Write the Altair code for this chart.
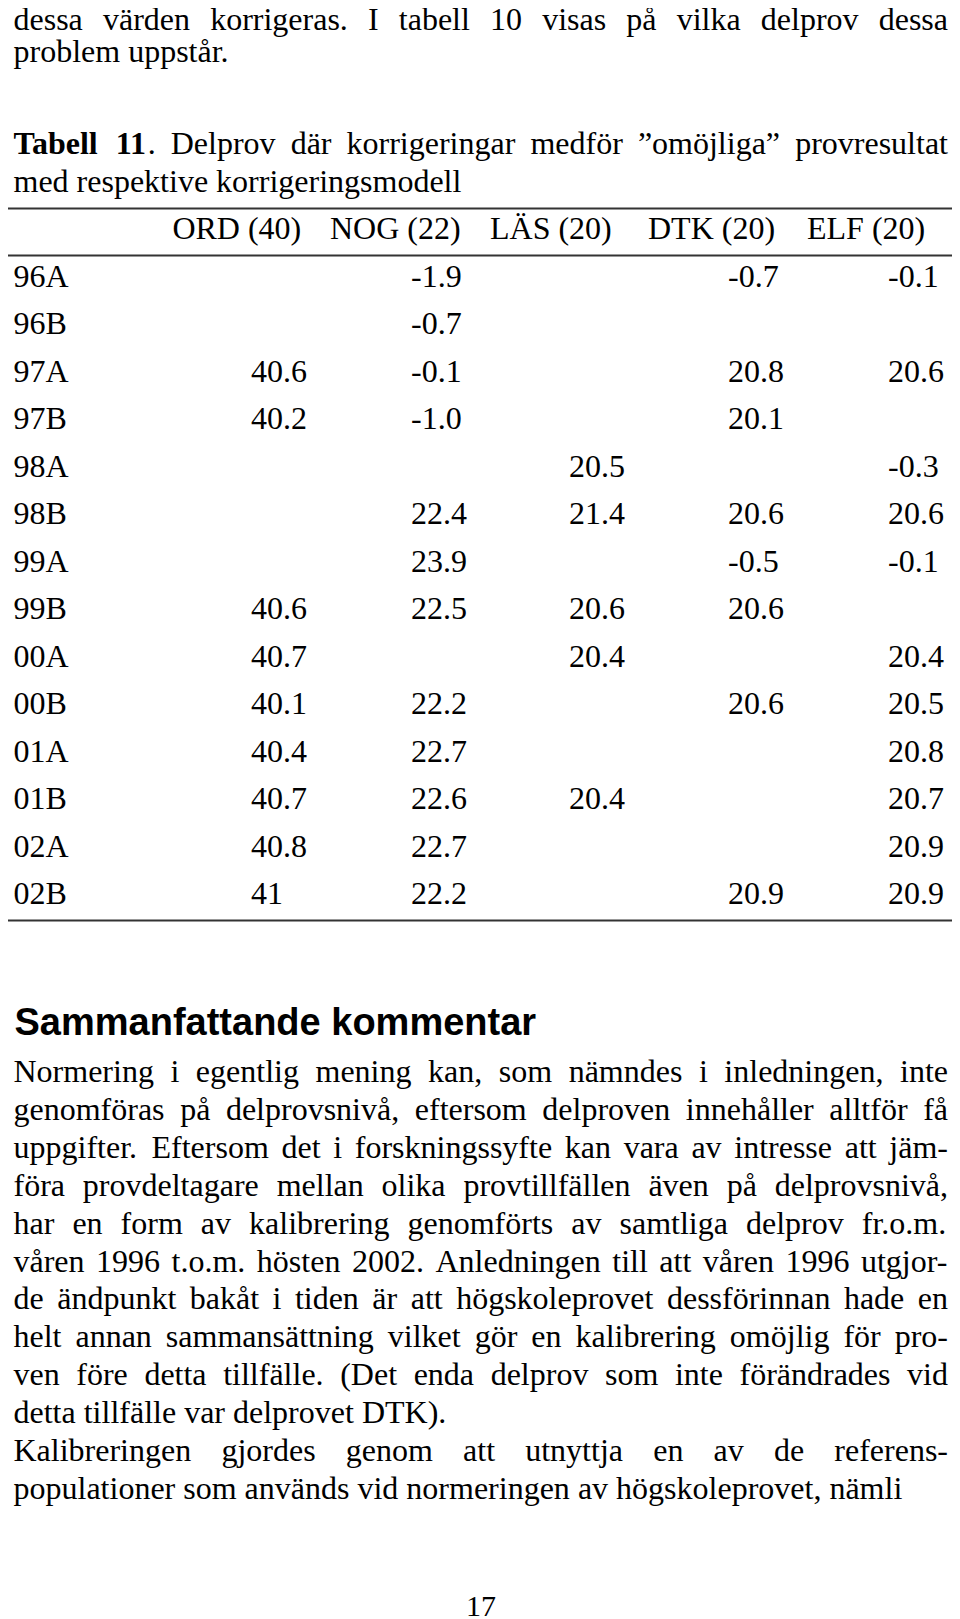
import altair as alt
import pandas as pd

# ---------------- content ----------------
intro_lines = [
    "dessa värden korrigeras. I tabell 10 visas på vilka delprov dessa",
    "problem uppstår.",
]
intro_justify = [True, False]

caption_lines = [
    "Tabell 11. Delprov där korrigeringar medför ”omöjliga” provresultat",
    "med respektive korrigeringsmodell",
]
caption_justify = [True, False]
caption_bold_chars = 9  # "Tabell 11" is set in bold

columns = ["ORD (40)", "NOG (22)", "LÄS (20)", "DTK (20)", "ELF (20)"]
rows = ["96A", "96B", "97A", "97B", "98A", "98B", "99A", "99B",
        "00A", "00B", "01A", "01B", "02A", "02B"]
ORD = ["", "", "40.6", "40.2", "", "", "", "40.6", "40.7", "40.1", "40.4", "40.7", "40.8", "41"]
NOG = ["-1.9", "-0.7", "-0.1", "-1.0", "", "22.4", "23.9", "22.5", "", "22.2", "22.7", "22.6", "22.7", "22.2"]
LAS = ["", "", "", "", "20.5", "21.4", "", "20.6", "20.4", "", "", "20.4", "", ""]
DTK = ["-0.7", "", "20.8", "20.1", "", "20.6", "-0.5", "20.6", "", "20.6", "", "", "", "20.9"]
ELF = ["-0.1", "", "20.6", "", "-0.3", "20.6", "-0.1", "", "20.4", "20.5", "20.8", "20.7", "20.9", "20.9"]

heading = "Sammanfattande kommentar"

para_lines = [
    "Normering i egentlig mening kan, som nämndes i inledningen, inte",
    "genomföras på delprovsnivå, eftersom delproven innehåller alltför få",
    "uppgifter. Eftersom det i forskningssyfte kan vara av intresse att jäm-",
    "föra provdeltagare mellan olika provtillfällen även på delprovsnivå,",
    "har en form av kalibrering genomförts av samtliga delprov fr.o.m.",
    "våren 1996 t.o.m. hösten 2002. Anledningen till att våren 1996 utgjor-",
    "de ändpunkt bakåt i tiden är att högskoleprovet dessförinnan hade en",
    "helt annan sammansättning vilket gör en kalibrering omöjlig för pro-",
    "ven före detta tillfälle. (Det enda delprov som inte förändrades vid",
    "detta tillfälle var delprovet DTK).",
    "Kalibreringen gjordes genom att utnyttja en av de referens-",
    "populationer som används vid normeringen av högskoleprovet, nämli",
]
para_justify = [True, True, True, True, True, True, True, True, True, False, True, False]

page_number = "17"

# ---------------- layout ----------------
FS = 32
LEFT, RIGHT = 13.5, 948
INTRO_YS = [30, 62]
CAPTION_YS = [153.5, 191.5]
RULE_YS = [208.5, 255.5, 920.5]
HEADER_Y = 239
HEADER_X = [172.4, 330, 490, 648, 807]
VALUE_X = [251, 411, 569, 728, 888]
ROW_Y0, ROW_STEP = 286.5, 47.5
HEADING_Y, HEADING_FS = 1035, 38
PARA_Y0, PARA_STEP = 1082, 37.9
PAGE_X, PAGE_Y, PAGE_FS = 481, 1616, 30

# Times / Liberation Serif advance widths (per 1000 em)
TIMES = {" ": 250, ".": 250, ",": 250, "-": 333, "(": 333, ")": 333, "”": 444, "“": 444,
         "ä": 444, "å": 444, "ö": 500, "Ä": 722, "Å": 722, "Ö": 722}
for c in "0123456789":
    TIMES[c] = 500
TIMES.update(dict(zip("abcdefghijklmnopqrstuvwxyz",
                      [444, 500, 444, 500, 444, 333, 500, 500, 278, 278, 500, 278, 778, 500,
                       500, 500, 500, 333, 389, 278, 500, 500, 722, 500, 500, 444])))
TIMES.update(dict(zip("ABCDEFGHIJKLMNOPQRSTUVWXYZ",
                      [722, 667, 667, 722, 611, 556, 722, 722, 333, 389, 722, 611, 889, 722,
                       722, 556, 722, 667, 556, 611, 722, 722, 944, 722, 722, 611])))
TIMES_BOLD = {"T": 667, "a": 500, "b": 556, "e": 444, "l": 278, "1": 500, " ": 250, ".": 250}


def tw(s, bold=False, fs=FS):
    table = TIMES_BOLD if bold else TIMES
    return sum(table.get(c, 500) for c in s) / 1000.0 * fs


def layout_line(line, y, justify, bold_upto=0):
    words, pos = [], 0
    for w in line.split(" "):
        runs, cur, cur_b = [], "", None
        for k, ch in enumerate(w):
            b = (pos + k) < bold_upto
            if cur_b is None or b == cur_b:
                cur += ch
                cur_b = b
            else:
                runs.append((cur, cur_b))
                cur, cur_b = ch, b
        runs.append((cur, cur_b))
        words.append(runs)
        pos += len(w) + 1
    widths = [sum(tw(t, b) for t, b in r) for r in words]
    if justify and len(words) > 1:
        gap = (RIGHT - LEFT - sum(widths)) / (len(words) - 1)
    else:
        gap = tw(" ")
    out, x = [], LEFT
    for runs, w in zip(words, widths):
        xx = x
        for t, b in runs:
            out.append(dict(x=xx, y=y, text=t, bold=b, size=FS))
            xx += tw(t, b)
        x += w + gap
    return out


recs = []
for ln, j, yy in zip(intro_lines, intro_justify, INTRO_YS):
    recs += layout_line(ln, yy, j)
for i, (ln, j, yy) in enumerate(zip(caption_lines, caption_justify, CAPTION_YS)):
    recs += layout_line(ln, yy, j, caption_bold_chars if i == 0 else 0)
for i, (ln, j) in enumerate(zip(para_lines, para_justify)):
    recs += layout_line(ln, PARA_Y0 + i * PARA_STEP, j)

# table
for c, hx in zip(columns, HEADER_X):
    recs.append(dict(x=hx, y=HEADER_Y, text=c, bold=False, size=FS))
series = [ORD, NOG, LAS, DTK, ELF]
for r, lab in enumerate(rows):
    yy = ROW_Y0 + r * ROW_STEP
    recs.append(dict(x=LEFT, y=yy, text=lab, bold=False, size=FS))
    for col, vx in zip(series, VALUE_X):
        if col[r]:
            recs.append(dict(x=vx, y=yy, text=col[r], bold=False, size=FS))

recs.append(dict(x=PAGE_X - tw(page_number, fs=PAGE_FS) / 2, y=PAGE_Y, text=page_number,
                 bold=False, size=PAGE_FS))

df = pd.DataFrame(recs)
df_reg = df[~df["bold"]]
df_bold = df[df["bold"]]
df_head = pd.DataFrame([dict(x=14.5, y=HEADING_Y, text=heading, size=HEADING_FS)])
df_rules = pd.DataFrame([dict(x=3, x2=957, y=yv) for yv in RULE_YS])

W, H = 944, 1611
X = alt.X("x:Q", scale=alt.Scale(domain=[8, 8 + W], nice=False, zero=False), axis=None)
Y = alt.Y("y:Q", scale=alt.Scale(domain=[8, 8 + H], nice=False, zero=False, reverse=True), axis=None)
SZ = alt.Size("size:Q", scale=None, legend=None)

reg = alt.Chart(df_reg).mark_text(
    align="left", baseline="alphabetic", font="Liberation Serif", color="#000"
).encode(x=X, y=Y, text="text:N", size=SZ)

bold = alt.Chart(df_bold).mark_text(
    align="left", baseline="alphabetic", font="Liberation Serif", fontWeight="bold", color="#000"
).encode(x=X, y=Y, text="text:N", size=SZ)

head = alt.Chart(df_head).mark_text(
    align="left", baseline="alphabetic", font="Liberation Sans", fontWeight="bold", color="#000"
).encode(x=X, y=Y, text="text:N", size=SZ)

rules = alt.Chart(df_rules).mark_rule(color="#333", strokeWidth=2).encode(x=X, x2="x2:Q", y=Y)

chart = alt.layer(rules, reg, bold, head).properties(
    width=W, height=H, padding=0, autosize=alt.AutoSizeParams(type="none")
).configure_view(stroke=None)

chart.save("out.html", embed_options={"renderer": "svg", "actions": False})
